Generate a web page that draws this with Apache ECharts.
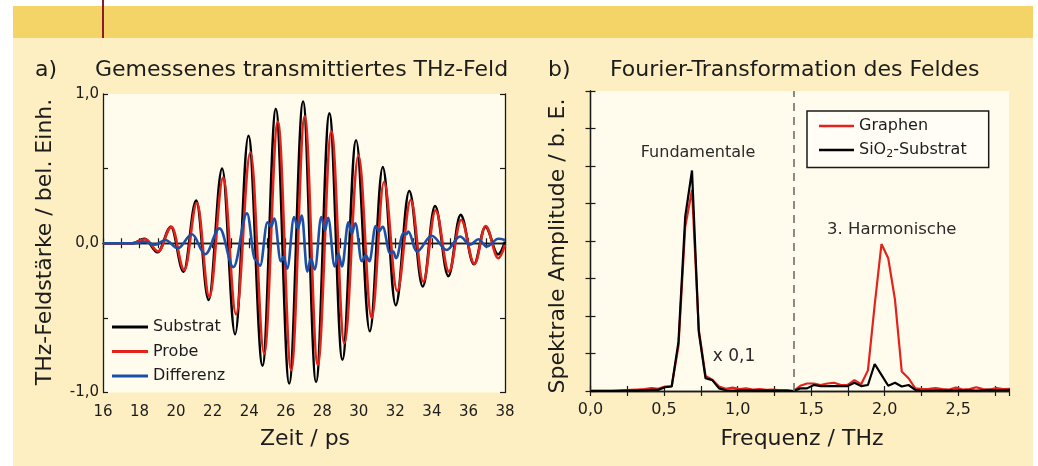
<!DOCTYPE html>
<html><head><meta charset="utf-8">
<script src="https://cdn.jsdelivr.net/npm/echarts@6/dist/echarts.min.js"></script>
<style>html,body{margin:0;padding:0;background:#fff}#c{width:1038px;height:466px}</style>
</head><body><div id="c"></div>
<script>
// ---------- Panel a) time domain ----------
const substratT = [16,17.6,18.28,18.99,19.72,20.41,21.1,21.78,22.52,23.23,23.96,24.73,25.46,26.19,26.95,27.66,28.39,29.1,29.85,30.6,31.31,32.02,32.76,33.5,34.17,34.9,35.57,36.3,36.93,37.62,38];
const substratV = [0,0,0.03,-0.06,0.11,-0.19,0.286,-0.38,0.50,-0.61,0.72,-0.82,0.90,-0.94,0.95,-0.93,0.87,-0.78,0.69,-0.59,0.51,-0.415,0.35,-0.29,0.25,-0.22,0.19,-0.14,0.11,-0.075,0.01];
const probeT = [16,17.6,18.32,19.02,19.75,20.45,21.14,21.82,22.58,23.28,24.07,24.82,25.57,26.3,27.04,27.75,28.5,29.21,29.98,30.7,31.38,32.1,32.84,33.53,34.2,34.93,35.6,36.33,36.94,37.63,38];
const probeV = [0,0,0.027,-0.055,0.11,-0.18,0.27,-0.36,0.44,-0.475,0.61,-0.74,0.815,-0.85,0.85,-0.815,0.75,-0.67,0.59,-0.50,0.41,-0.32,0.29,-0.257,0.22,-0.19,0.156,-0.138,0.116,-0.10,-0.01];
const differenzT = [16,17.8,18.22,18.86,19.41,20.1,20.87,21.59,22.38,23.14,23.88,24.33,24.6,25.0,25.2,25.38,25.73,25.88,26.08,26.46,26.66,26.88,27.18,27.37,27.59,27.95,28.14,28.32,28.68,28.88,29.08,29.43,29.61,29.81,30.16,30.38,30.58,30.92,31.1,31.31,31.71,31.89,32.04,32.44,32.6,32.71,33.17,33.99,34.81,35.54,36.09,36.55,37.0,37.64,38];
const differenzV = [0,0,0.01,-0.01,0.022,-0.033,0.06,-0.074,0.10,-0.16,0.20,-0.11,-0.15,0.14,0.11,0.165,-0.12,-0.09,-0.17,0.175,0.10,0.185,-0.19,-0.10,-0.175,0.175,0.085,0.17,-0.155,-0.07,-0.155,0.14,0.065,0.134,-0.12,-0.08,-0.12,0.115,0.08,0.11,-0.067,-0.055,-0.1,0.067,0.06,0.078,-0.056,0.05,-0.045,0.045,-0.01,0.027,-0.022,0.03,0.022];

// ---------- Panel b) spectrum ----------
const freqTHz = [0,0.046,0.092,0.138,0.184,0.23,0.276,0.322,0.368,0.414,0.46,0.506,0.552,0.598,0.644,0.69,0.736,0.782,0.828,0.874,0.92,0.966,1.012,1.058,1.104,1.15,1.196,1.242,1.288,1.334,1.38,1.426,1.472,1.518,1.564,1.61,1.656,1.702,1.748,1.794,1.84,1.886,1.932,1.978,2.024,2.07,2.116,2.162,2.208,2.254,2.3,2.346,2.392,2.438,2.484,2.53,2.576,2.622,2.668,2.714,2.76,2.806,2.852];
const graphenAmp = [0.01,0.01,0.01,0.01,0.02,0.02,0.03,0.04,0.05,0.08, 0.06,0.12,0.13,1.2,4.38,5.36,1.64,0.4,0.3,0.12, 0.06,0.09,0.05,0.07,0.04,0.05,0.03,0.04,0.02,0.02, 0.0,0.14,0.2,0.2,0.16,0.2,0.22,0.16,0.16,0.29, 0.18,0.55,2.3,3.92,3.54,2.43,0.52,0.34,0.07,0.05, 0.06,0.08,0.05,0.04,0.09,0.04,0.05,0.1,0.05,0.04, 0.08,0.05,0.06];
const substratAmp = [0,0,0,0,0,0.01,0.01,0.01,0.02,0.03, 0.03,0.1,0.12,1.31,4.65,5.88,1.58,0.34,0.29,0.07, 0.02,0.01,0.01,0.02,0.01,0.01,0.01,0.01,0.01,0.01, 0.0,0.07,0.07,0.16,0.13,0.13,0.13,0.13,0.13,0.22, 0.13,0.16,0.72,0.43,0.14,0.22,0.12,0.16,0.03,0.0, 0.01,0.02,0.01,0.01,0.02,0.01,0.02,0.01,0.02,0.03, 0.02,0.02,0.03];
const separatorFreq = 1.38;
const annotations = [
  {text: 'Fundamentale', f: 0.731, v: 6.35, size: 16},
  {text: '3. Harmonische', f: 2.048, v: 4.29, size: 16.5},
  {text: 'x 0,1', f: 0.976, v: 0.915, size: 17}
];

const FONT = '"DejaVu Sans", Verdana, sans-serif';
const TXT = '#1c1c1c';
const zip = (a, b) => a.map((x, i) => [x, b[i]]);
const comma = v => v.toFixed(1).replace('.', ',');

const axisLineStyle = {show: true, lineStyle: {color: '#1a1a1a', width: 1.3}};
const tickStyle = {show: true, inside: true, length: 5, lineStyle: {color: '#1a1a1a', width: 1.2}};

const chart = echarts.init(document.getElementById('c'), null, {renderer: 'canvas'});

const option = {
  animation: false,
  backgroundColor: '#ffffff',
  textStyle: {fontFamily: FONT},
  graphic: [
    {type: 'rect', z: -100, silent: true, shape: {x: 13, y: 6, width: 1020, height: 460}, style: {fill: '#fdefc2'}},
    {type: 'rect', z: -99, silent: true, shape: {x: 13, y: 6, width: 1020, height: 32}, style: {fill: '#f5d467'}},
    {type: 'rect', z: -98, silent: true, shape: {x: 102, y: 0, width: 2, height: 38}, style: {fill: '#8a1c2c'}},
    {type: 'text', style: {x: 35, y: 70, text: 'a)', font: '22px ' + FONT, fill: TXT, textVerticalAlign: 'middle'}},
    {type: 'text', style: {x: 95, y: 70, text: 'Gemessenes transmittiertes THz-Feld', font: '22px ' + FONT, fill: TXT, textVerticalAlign: 'middle'}},
    {type: 'text', style: {x: 548, y: 70, text: 'b)', font: '22px ' + FONT, fill: TXT, textVerticalAlign: 'middle'}},
    {type: 'text', style: {x: 610, y: 70, text: 'Fourier-Transformation des Feldes', font: '22px ' + FONT, fill: TXT, textVerticalAlign: 'middle'}},
    {type: 'text', style: {x: 305, y: 439, text: 'Zeit / ps', font: '22px ' + FONT, fill: TXT, textAlign: 'center', textVerticalAlign: 'middle'}},
    {type: 'text', style: {x: 802, y: 439, text: 'Frequenz / THz', font: '22px ' + FONT, fill: TXT, textAlign: 'center', textVerticalAlign: 'middle'}},
    {type: 'text', x: 45, y: 242, rotation: Math.PI / 2, style: {x: 0, y: 0, text: 'THz-Feldstärke / bel. Einh.', font: '22px ' + FONT, fill: TXT, textAlign: 'center', textVerticalAlign: 'middle'}},
    {type: 'text', x: 558, y: 246, rotation: Math.PI / 2, style: {x: 0, y: 0, text: 'Spektrale Amplitude / b. E.', font: '22px ' + FONT, fill: TXT, textAlign: 'center', textVerticalAlign: 'middle'}}
  ],
  grid: [
    {left: 103, top: 94, width: 402, height: 298.5, show: true, backgroundColor: '#fffcee', borderWidth: 0, containLabel: false, outerBoundsMode: 'none'},
    {left: 590.5, top: 91, width: 418.5, height: 300, show: true, backgroundColor: '#fffcee', borderWidth: 0, containLabel: false, outerBoundsMode: 'none'}
  ],
  legend: [
    {
      data: ['Substrat', 'Probe', 'Differenz'], orient: 'vertical', left: 112, top: 319,
      icon: 'rect', itemWidth: 36, itemHeight: 3, itemGap: 8.5, padding: 0,
      textStyle: {fontSize: 16, color: TXT, fontFamily: FONT}
    },
    {
      data: ['Graphen', 'SiO2-Substrat'], orient: 'vertical', left: 807, top: 111,
      icon: 'rect', itemWidth: 35, itemHeight: 2.5, itemGap: 8, padding: [7, 22, 8, 12],
      backgroundColor: '#fffdf6', borderColor: '#1a1a1a', borderWidth: 1.5, borderRadius: 0,
      formatter: n => n === 'SiO2-Substrat' ? 'SiO{sub|2}-Substrat' : n,
      textStyle: {fontSize: 16, color: TXT, fontFamily: FONT,
        rich: {sub: {fontSize: 11, fontFamily: FONT, color: TXT, padding: [8, 0, 0, 0]}}}
    }
  ],
  xAxis: [
    {gridIndex: 0, type: 'value', min: 16, max: 38, interval: 1, position: 'bottom',
      axisLine: axisLineStyle, axisTick: tickStyle, splitLine: {show: false},
      axisLabel: {margin: 12, fontSize: 15, color: TXT, fontFamily: FONT, formatter: v => (v % 2 === 0 ? String(v) : '')}},
    {gridIndex: 0, type: 'value', min: 16, max: 38, interval: 1, position: 'top',
      axisLine: axisLineStyle, axisTick: tickStyle, splitLine: {show: false}, axisLabel: {show: false}},
    {gridIndex: 1, type: 'value', min: 0, max: 2.845, interval: 0.25, position: 'bottom',
      axisLine: axisLineStyle, axisTick: tickStyle, splitLine: {show: false},
      axisLabel: {margin: 11, fontSize: 16, color: TXT, fontFamily: FONT, showMaxLabel: false,
        formatter: v => (Math.abs(v * 2 - Math.round(v * 2)) < 1e-6 ? comma(v) : '')}},
    {gridIndex: 1, type: 'value', min: 0, max: 2.845, interval: 0.25, position: 'top',
      axisLine: axisLineStyle, axisTick: tickStyle, splitLine: {show: false}, axisLabel: {show: false}}
  ],
  yAxis: [
    {gridIndex: 0, type: 'value', min: -1, max: 1, interval: 0.5, position: 'left',
      axisLine: axisLineStyle, axisTick: tickStyle, splitLine: {show: false},
      axisLabel: {margin: 4, fontSize: 15, color: TXT, fontFamily: FONT, formatter: v => (Number.isInteger(v) ? comma(v) : '')}},
    {gridIndex: 0, type: 'value', min: -1, max: 1, interval: 0.5, position: 'right',
      axisLine: axisLineStyle, axisTick: tickStyle, splitLine: {show: false}, axisLabel: {show: false}},
    {gridIndex: 1, type: 'value', min: 0, max: 8, interval: 1, position: 'left',
      axisLine: axisLineStyle, axisTick: tickStyle, splitLine: {show: false}, axisLabel: {show: false}},
    {gridIndex: 1, type: 'value', min: 0, max: 8, interval: 1, position: 'right',
      axisLine: axisLineStyle, axisTick: tickStyle, splitLine: {show: false}, axisLabel: {show: false}}
  ],
  series: [
    {name: 'Substrat', type: 'line', xAxisIndex: 0, yAxisIndex: 0, data: zip(substratT, substratV),
      smooth: 0.37, smoothMonotone: 'x', symbol: 'none', itemStyle: {color: '#000000'}, lineStyle: {color: '#000000', width: 2.6}},
    {name: 'Probe', type: 'line', xAxisIndex: 0, yAxisIndex: 0, data: zip(probeT, probeV),
      smooth: 0.37, smoothMonotone: 'x', symbol: 'none', itemStyle: {color: '#e3231b'}, lineStyle: {color: '#e3231b', width: 2.6}},
    {name: 'Differenz', type: 'line', xAxisIndex: 0, yAxisIndex: 0, data: zip(differenzT, differenzV),
      smooth: 0.37, smoothMonotone: 'x', symbol: 'none', itemStyle: {color: '#1d4fa6'}, lineStyle: {color: '#1d4fa6', width: 2.6}},
    {name: 'Graphen', type: 'line', xAxisIndex: 2, yAxisIndex: 2, data: zip(freqTHz, graphenAmp),
      symbol: 'none', clip: true, itemStyle: {color: '#e3231b'}, lineStyle: {color: '#e3231b', width: 2.2}},
    {name: 'SiO2-Substrat', type: 'line', xAxisIndex: 2, yAxisIndex: 2, data: zip(freqTHz, substratAmp),
      symbol: 'none', clip: true, itemStyle: {color: '#000000'}, lineStyle: {color: '#000000', width: 2.2},
      markLine: {silent: true, symbol: 'none', label: {show: false},
        lineStyle: {color: '#6e6e6e', width: 1.6, type: [8, 6]}, data: [{xAxis: separatorFreq}]}}
  ]
};
chart.setOption(option);

const extra = annotations.map(a => {
  const p = chart.convertToPixel({gridIndex: 1}, [a.f, a.v]);
  return {type: 'text', style: {x: p[0], y: p[1], text: a.text, font: a.size + 'px ' + FONT, fill: '#2a2a2a', textAlign: 'center', textVerticalAlign: 'middle'}};
});
chart.setOption({graphic: option.graphic.concat(extra)});
</script></body></html>
